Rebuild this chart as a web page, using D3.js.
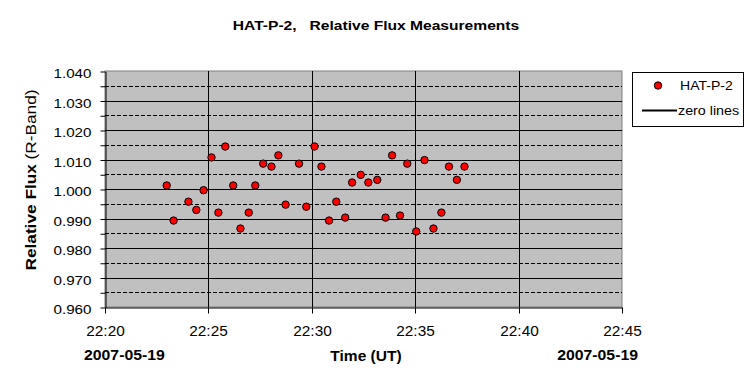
<!DOCTYPE html>
<html>
<head>
<meta charset="utf-8">
<script src="https://cdn.jsdelivr.net/npm/d3@7"></script>
<style>
  body { margin: 0; background: #ffffff; }
  svg text { font-family: "Liberation Sans", Arial, sans-serif; }
</style>
</head>
<body>
<script>
const times = ["22:22:59", "22:23:19", "22:24:02", "22:24:25", "22:24:46", "22:25:09", "22:25:29", "22:25:49",
  "22:26:12", "22:26:33", "22:26:57", "22:27:16", "22:27:39", "22:28:03", "22:28:23", "22:28:44",
  "22:29:23", "22:29:44", "22:30:08", "22:30:28", "22:30:50", "22:31:11", "22:31:37", "22:31:57",
  "22:32:22", "22:32:44", "22:33:10", "22:33:34", "22:33:53", "22:34:16", "22:34:37", "22:35:03",
  "22:35:27", "22:35:53", "22:36:16", "22:36:38", "22:37:01", "22:37:23"];
const flux = [1.0012, 0.9893, 0.9957, 0.9929, 0.9996, 1.0107, 0.9920, 1.0144,
  1.0012, 0.9866, 0.9920, 1.0012, 1.0086, 1.0076, 1.0114, 0.9947,
  1.0086, 0.9940, 1.0144, 1.0076, 0.9893, 0.9957, 0.9903, 1.0022,
  1.0048, 1.0022, 1.0031, 0.9903, 1.0114, 0.9910, 1.0086, 0.9856,
  1.0098, 0.9866, 0.9920, 1.0076, 1.0031, 1.0076];
const yMajor = [0.96, 0.97, 0.98, 0.99, 1.00, 1.01, 1.02, 1.03, 1.04];
const yMinor = [0.965, 0.975, 0.985, 0.995, 1.005, 1.015, 1.025, 1.035];
const xTickLabels = ["22:20", "22:25", "22:30", "22:35", "22:40", "22:45"];
const dateLabel = "2007-05-19";

const parseTime = d3.utcParse("%H:%M:%S");
const parseTick = d3.utcParse("%H:%M");

function init(){
	const svg = d3.select("body").append("svg")
		.attr("width", 750)
		.attr("height", 386);

	const x = d3.scaleUtc()
		.domain([parseTick(xTickLabels[0]), parseTick(xTickLabels[xTickLabels.length - 1])])
		.range([105, 622]);
	const y = d3.scaleLinear()
		.domain([0.96, 1.04])
		.range([307, 71]);

	// speckled grey plot background
	const defs = svg.append("defs");
	const pat = defs.append("pattern")
		.attr("id", "speckle")
		.attr("patternUnits", "userSpaceOnUse")
		.attr("width", 8)
		.attr("height", 8);
	pat.append("rect").attr("width", 8).attr("height", 8).attr("fill", "#c0c0c0");
	[[1, 0], [5, 3], [3, 5], [7, 7]].forEach(p => {
		pat.append("rect").attr("x", p[0]).attr("y", p[1]).attr("width", 1).attr("height", 1).attr("fill", "#a8c8a8");
	});

	svg.append("rect")
		.attr("x", 105)
		.attr("y", 71)
		.attr("width", 517)
		.attr("height", 236)
		.attr("fill", "url(#speckle)")
		.attr("stroke", "#808080");

	const grid = svg.append("g").attr("shape-rendering", "crispEdges");
	grid.selectAll(".minor").data(yMinor).join("line")
		.attr("x1", 105).attr("x2", 622)
		.attr("y1", d => Math.round(y(d)) + 0.5)
		.attr("y2", d => Math.round(y(d)) + 0.5)
		.attr("stroke", "#000")
		.attr("stroke-dasharray", "4,2");
	grid.selectAll(".major").data(yMajor.slice(1, -1)).join("line")
		.attr("x1", 105).attr("x2", 622)
		.attr("y1", d => Math.round(y(d)) + 0.5)
		.attr("y2", d => Math.round(y(d)) + 0.5)
		.attr("stroke", "#000");
	grid.selectAll(".vert").data(xTickLabels.slice(1, -1)).join("line")
		.attr("x1", d => Math.round(x(parseTick(d))) + 0.5)
		.attr("x2", d => Math.round(x(parseTick(d))) + 0.5)
		.attr("y1", 71).attr("y2", 307)
		.attr("stroke", "#000");

	// y axis
	const yAxis = svg.append("g")
		.attr("transform", "translate(105.5,0.5)")
		.call(d3.axisLeft(y).tickValues(yMajor).tickFormat(d3.format(".3f")).tickSize(5).tickSizeOuter(0));
	yAxis.selectAll("text")
		.attr("font-size", "13px")
		.attr("fill", "#000")
		.attr("x", -12)
		.attr("dy", 6)
		.attr("transform", "scale(1.17,1)");
	svg.append("g")
		.attr("transform", "translate(105.5,0.5)")
		.call(d3.axisLeft(y).tickValues(yMinor).tickFormat("").tickSize(5).tickSizeOuter(0))
		.select(".domain").remove();

	// x axis
	const xAxis = svg.append("g")
		.attr("transform", "translate(0.5,307.5)")
		.call(d3.axisBottom(x).tickValues(xTickLabels.map(parseTick)).tickFormat(d3.utcFormat("%H:%M")).tickSize(6).tickSizeOuter(0));
	xAxis.selectAll("text")
		.attr("font-size", "14px")
		.attr("fill", "#000")
		.attr("y", 28.5)
		.attr("dy", 0)
		.attr("transform", "scale(1.1,1)");
	xAxis.selectAll(".tick").attr("transform", d => "translate(" + Math.round(x(d)) + ",0)");
	svg.selectAll(".tick line").attr("stroke", "#000");
	svg.selectAll(".domain").attr("stroke", "#000");

	// points
	svg.append("g").selectAll("circle")
		.data(times)
		.join("circle")
		.attr("cx", (d, i) => x(parseTime(d)))
		.attr("cy", (d, i) => y(flux[i]))
		.attr("r", 3.7)
		.attr("fill", "#ff0000")
		.attr("stroke", "#000")
		.attr("stroke-width", 1);

	// title
	svg.append("text")
		.attr("transform", "translate(376,30) scale(1.2,1)")
		.attr("text-anchor", "middle")
		.attr("font-size", "13px")
		.attr("font-weight", "bold")
		.style("white-space", "pre")
		.text("HAT-P-2,   Relative Flux Measurements");

	// y axis title
	const yt = svg.append("text")
		.attr("transform", "translate(36,180) rotate(-90) scale(1.15,1)")
		.attr("text-anchor", "middle")
		.attr("font-size", "15px");
	yt.append("tspan").attr("font-weight", "bold").style("white-space", "pre").text("Relative Flux ");
	yt.append("tspan").text("(R-Band)");

	// x axis titles
	svg.append("text")
		.attr("transform", "translate(84,360) scale(1.13,1)")
		.attr("font-size", "14px")
		.attr("font-weight", "bold")
		.text(dateLabel);
	svg.append("text")
		.attr("transform", "translate(366,361) scale(1.11,1)")
		.attr("text-anchor", "middle")
		.attr("font-size", "14px")
		.attr("font-weight", "bold")
		.text("Time (UT)");
	svg.append("text")
		.attr("transform", "translate(638,360) scale(1.13,1)")
		.attr("text-anchor", "end")
		.attr("font-size", "14px")
		.attr("font-weight", "bold")
		.text(dateLabel);

	// legend
	const legend = svg.append("g");
	legend.append("rect")
		.attr("x", 632.5)
		.attr("y", 72.5)
		.attr("width", 111)
		.attr("height", 54)
		.attr("fill", "#fff")
		.attr("stroke", "#000");
	legend.append("circle")
		.attr("cx", 658)
		.attr("cy", 85.5)
		.attr("r", 3.7)
		.attr("fill", "#ff0000")
		.attr("stroke", "#000");
	legend.append("text")
		.attr("transform", "translate(680,90) scale(1.08,1)")
		.attr("font-size", "13px")
		.text("HAT-P-2");
	legend.append("line")
		.attr("x1", 642)
		.attr("x2", 677)
		.attr("y1", 110.5)
		.attr("y2", 110.5)
		.attr("stroke", "#000")
		.attr("stroke-width", 2);
	legend.append("text")
		.attr("transform", "translate(678,115) scale(1.1,1)")
		.attr("font-size", "13px")
		.text("zero lines");
}
init();
</script>
</body>
</html>
